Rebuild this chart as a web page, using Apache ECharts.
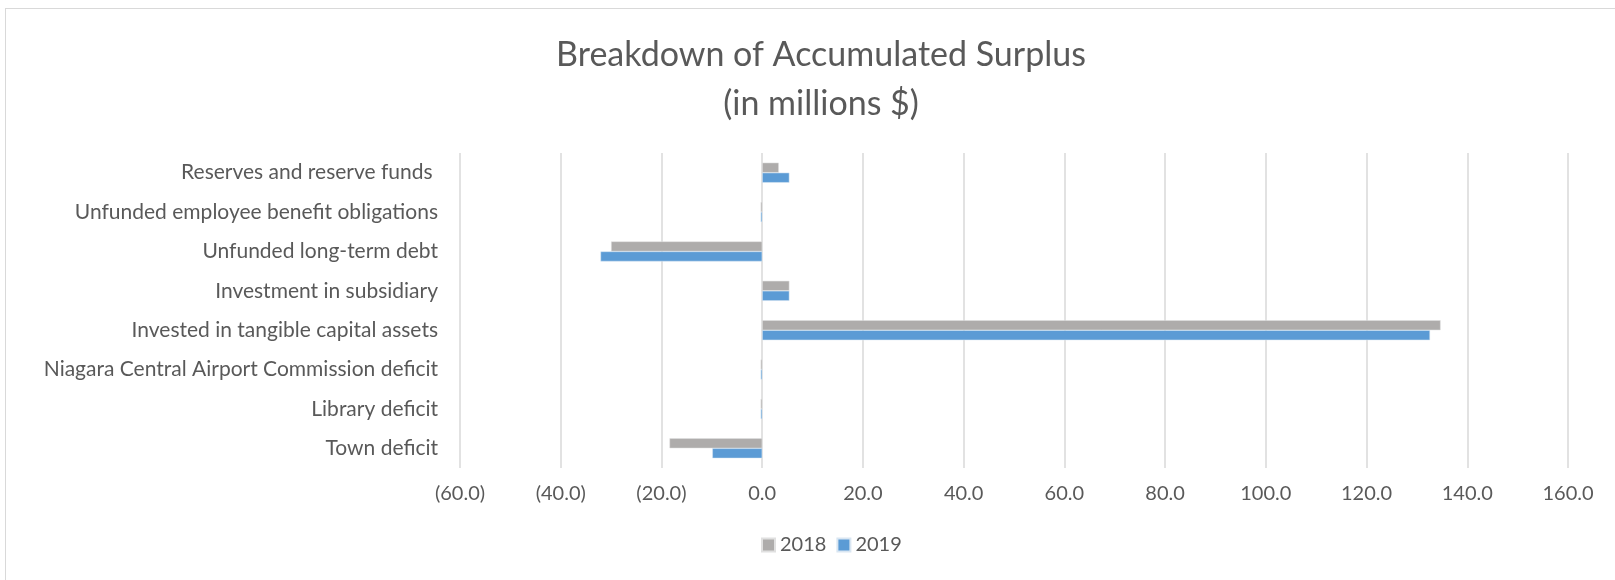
<!DOCTYPE html>
<html>
<head>
<meta charset="utf-8">
<script src="https://cdn.jsdelivr.net/npm/echarts@6/dist/echarts.min.js"></script>
<style>
  html, body { margin: 0; padding: 0; background: #fff; }
  #chart { position: absolute; left: 5px; top: 8px; width: 1640px; height: 600px;
           border: 1.5px solid #d9d9d9; box-sizing: border-box; }
</style>
</head>
<body>
<div id="chart"></div>
<script>
// categories bottom -> top (as the axis draws them)
var categories = [
    'Town deficit',
    'Library deficit',
    'Niagara Central Airport Commission deficit',
    'Invested in tangible capital assets',
    'Investment in subsidiary',
    'Unfunded long-term debt',
    'Unfunded employee benefit obligations',
    'Reserves and reserve funds '
];
var values2018 = [-18.4, -0.3, -0.3, 134.7, 5.4, -30.0, -0.3, 3.3];
var values2019 = [-9.9, -0.3, -0.3, 132.6, 5.4, -32.1, -0.3, 5.4];
var seriesNames = ['2018', '2019'];

var chart = echarts.init(document.getElementById('chart'));
var font = 'Lato';

function fmt(v) {
    return v < 0 ? '(' + Math.abs(v).toFixed(1) + ')' : v.toFixed(1);
}

var option = {
    animation: false,
    textStyle: { fontFamily: font },
    title: {
        text: 'Breakdown of Accumulated Surplus\n(in millions $)',
        left: 810,
        textAlign: 'center',
        top: 17,
        textStyle: { color: '#595959', fontSize: 34, fontWeight: 'normal', lineHeight: 49, fontFamily: font }
    },
    legend: {
        data: seriesNames,
        left: 750,
        top: 521,
        itemWidth: 13,
        itemHeight: 13,
        itemGap: 10,
        icon: 'rect',
        textStyle: { color: '#595959', fontSize: 20, fontFamily: font }
    },
    grid: { left: 454, right: 1640 - 5 - 1559, top: 144, bottom: 600 - 461, containLabel: false },
    xAxis: {
        type: 'value',
        min: -60,
        max: 160,
        interval: 20,
        axisLine: { show: false },
        axisTick: { show: false },
        axisLabel: { formatter: fmt, color: '#595959', fontSize: 20, margin: 16, fontFamily: font },
        splitLine: { lineStyle: { color: '#d9d9d9', width: 1.5 } }
    },
    yAxis: {
        type: 'category',
        data: categories,
        axisLine: { show: false, onZero: false },
        axisTick: { show: false },
        axisLabel: { color: '#595959', fontSize: 21, margin: 22, fontFamily: font }
    },
    series: [
        {
            name: '2018', type: 'bar', data: values2018, barWidth: 10, barGap: '0%',
            itemStyle: { color: '#aeacab', borderColor: '#e0e0e0', borderWidth: 0.5 }
        },
        {
            name: '2019', type: 'bar', data: values2019, barWidth: 10, barGap: '0%',
            itemStyle: { color: '#5b9bd5', borderColor: '#d9e6f2', borderWidth: 0.5 }
        }
    ]
};

chart.setOption(option);
</script>
</body>
</html>
